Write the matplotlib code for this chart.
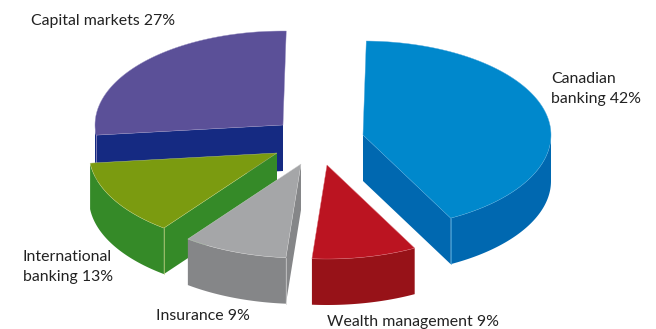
import numpy as np
import matplotlib
matplotlib.use("Agg")
import matplotlib.pyplot as plt
from matplotlib.patches import Polygon

# share of earnings by business segment, clockwise from 12 o'clock
segments = ["Canadian\nbanking", "Wealth management", "Insurance", "International\nbanking", "Capital markets"]
shares = [42, 9, 9, 13, 27]

top_colors = ["#0088cc", "#bb1421", "#a5a6a8", "#7b9b10", "#5b5098"]
side_colors = ["#0068b0", "#971218", "#858688", "#358a28", "#152a82"]
edge_colors = ["#4fa8dc", "#dc7078", "#d0d0d0", "#c0d080", "#9c94c4"]

# pixel position of each wedge tip after exploding
tips = [(363, 135), (327, 165), (301, 164), (277, 153), (283, 125)]
label_pos = [(551, 89), (327, 322), (156, 316), (23, 267), (31, 21)]

RX, RY, DEPTH = 188, 94, 46
START = 1.0

plt.rcParams['font.family'] = ['Lato', 'DejaVu Sans']

fig = plt.figure(figsize=(6.56, 3.29), dpi=100)
ax = fig.add_axes([0, 0, 1, 1])
ax.set_xlim(0, 656)
ax.set_ylim(329, 0)
ax.axis('off')


def rim(tip, deg):
    a = np.radians(deg)
    return np.column_stack([tip[0] + RX * np.sin(a), tip[1] - RY * np.cos(a)])


def draw_slice(tip, start, end, top, side, edge, z):
    # outer wall, only the part facing the viewer
    lo, hi = max(start, 90), min(end, 270)
    if hi > lo:
        upper = rim(tip, np.linspace(lo, hi, 80))
        lower = upper[::-1] + [0, DEPTH]
        ax.add_patch(Polygon(np.vstack([upper, lower]), fc=side, ec='none', zorder=z))

    # flat cut faces when the outward normal points down the screen
    for ang, normal in ((start, start - 90), (end, end + 90)):
        if np.cos(np.radians(normal)) < -0.05:
            p = rim(tip, np.array([ang]))[0]
            quad = [tip, p, p + [0, DEPTH], (tip[0], tip[1] + DEPTH)]
            ax.add_patch(Polygon(quad, fc=side, ec='none', zorder=z + 0.1))
            ax.plot([p[0], p[0]], [p[1], p[1] + DEPTH], color=edge, lw=0.5, zorder=z + 0.2)

    arc = rim(tip, np.linspace(start, end, 120))
    ax.add_patch(Polygon(np.vstack([[tip], arc]), fc=top, ec=edge, lw=0.3, zorder=z + 0.3))


order = [4, 3, 2, 1, 0]
edges = START + np.concatenate([[0], np.cumsum(shares)]) / np.sum(shares) * 360
for z, i in enumerate(order):
    draw_slice(tips[i], edges[i], edges[i + 1], top_colors[i], side_colors[i], edge_colors[i], z + 1)

for name, val, pos in zip(segments, shares, label_pos):
    ax.text(pos[0], pos[1], f"{name} {val}%", fontsize=11.4, color='#222222',
            ha='left', va='center', linespacing=1.5, zorder=10)

fig.savefig("out.png", dpi=100)
